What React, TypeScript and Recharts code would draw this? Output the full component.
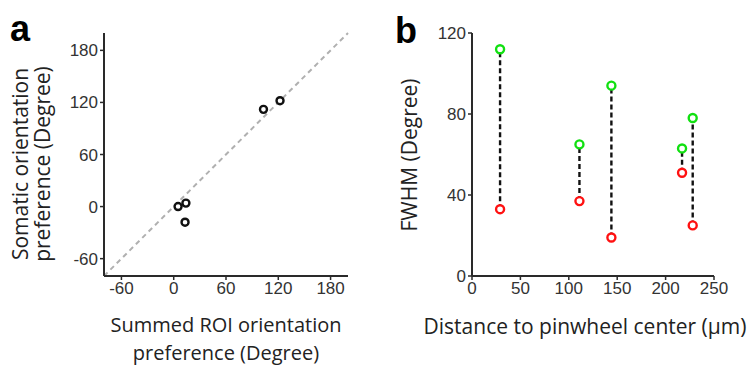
import React from "react";
import {
  ScatterChart,
  Scatter,
  XAxis,
  YAxis,
  ReferenceLine,
  Label,
} from "recharts";

// Panel a: orientation preference
const summedROI = [5, 14, 13, 103, 122];
const somatic = [0, 4, -18, 112, 122];
const angleTicks = [-60, 0, 60, 120, 180];
const angleDomain = [-80, 200];

// Panel b: FWHM vs distance to pinwheel center
const distances = [29, 111, 144, 217, 228];
const fwhmGreen = [112, 65, 94, 63, 78];
const fwhmRed = [33, 37, 19, 51, 25];
const distTicks = [0, 50, 100, 150, 200, 250];
const fwhmTicks = [0, 40, 80, 120];

const angleData = summedROI.map((x, i) => ({ x, y: somatic[i] }));
const greenData = distances.map((x, i) => ({ x, y: fwhmGreen[i] }));
const redData = distances.map((x, i) => ({ x, y: fwhmRed[i] }));

const AXIS = "#2a2a2a";
const TICK_FONT = "'Liberation Sans', Arial, sans-serif";
const LABEL_FONT = "'Open Sans', 'Noto Sans', sans-serif";
const tickStyle = { fill: "#333333", fontSize: 17, fontFamily: TICK_FONT };

const ring = (stroke: string, r: number) => (p: any) =>
  p.cx == null ? <g /> : (
    <circle cx={p.cx} cy={p.cy} r={r} fill="#ffffff" stroke={stroke} strokeWidth={2.4} />
  );

const xLabelA = (props: any) => {
  const vb = props.viewBox;
  const cx = vb.x + vb.width / 2;
  return (
    <g>
      <text x={cx} y={332} textAnchor="middle" fontSize={20} fontFamily={LABEL_FONT} fill="#222">
        Summed ROI orientation
      </text>
      <text x={cx} y={359.5} textAnchor="middle" fontSize={20} fontFamily={LABEL_FONT} fill="#222">
        preference (Degree)
      </text>
    </g>
  );
};

const yLabelA = () => (
  <text
    transform="translate(28,164) rotate(-90)"
    textAnchor="middle"
    fontSize={21}
    fontFamily={LABEL_FONT}
    fill="#222"
  >
    <tspan x={0} dy={0}>Somatic orientation</tspan>
    <tspan x={0} dy={22}>preference (Degree)</tspan>
  </text>
);

const xLabelB = () => (
  <text x={585 - 374} y={334} textAnchor="middle" fontSize={21} fontFamily={LABEL_FONT} fill="#222">
    Distance to pinwheel center (µm)
  </text>
);

const yLabelB = () => (
  <text
    transform={`translate(${417 - 374},155) rotate(-90)`}
    textAnchor="middle"
    fontSize={21}
    fontFamily={LABEL_FONT}
    fill="#222"
  >
    FWHM (Degree)
  </text>
);

export default function App() {
  return (
    <div style={{ position: "absolute", left: 0, top: 0, width: 748, height: 368, background: "#fff" }}>
      <div style={{ position: "absolute", left: 0, top: 0 }}>
        <ScatterChart width={374} height={368} margin={{ top: 33, right: 26, bottom: 62, left: 44 }}>
          <XAxis
            type="number"
            dataKey="x"
            domain={angleDomain}
            ticks={angleTicks}
            allowDataOverflow
            height={30}
            stroke={AXIS}
            strokeWidth={2}
            tickSize={4}
            tick={tickStyle}
            tickLine={{ stroke: AXIS, strokeWidth: 1.5 }}
          >
            <Label content={xLabelA} />
          </XAxis>
          <YAxis
            type="number"
            dataKey="y"
            domain={angleDomain}
            ticks={angleTicks}
            allowDataOverflow
            width={60}
            stroke={AXIS}
            strokeWidth={2}
            tickSize={4}
            tick={tickStyle}
            tickLine={{ stroke: AXIS, strokeWidth: 1.5 }}
          >
            <Label content={yLabelA} />
          </YAxis>
          <ReferenceLine
            segment={[
              { x: angleDomain[0], y: angleDomain[0] },
              { x: angleDomain[1], y: angleDomain[1] },
            ]}
            stroke="#b0b0b0"
            strokeWidth={2}
            strokeDasharray="5 4"
            ifOverflow="visible"
          />
          <Scatter data={angleData} shape={ring("#111111", 3.5)} isAnimationActive={false} />
        </ScatterChart>
      </div>
      <div style={{ position: "absolute", left: 374, top: 0 }}>
        <ScatterChart width={374} height={368} margin={{ top: 33, right: 34, bottom: 62, left: 38 }}>
          <XAxis
            type="number"
            dataKey="x"
            domain={[0, 250]}
            ticks={distTicks}
            allowDataOverflow
            height={30}
            stroke={AXIS}
            strokeWidth={2}
            tickSize={4}
            tick={tickStyle}
            tickLine={{ stroke: AXIS, strokeWidth: 1.5 }}
          >
            <Label content={xLabelB} />
          </XAxis>
          <YAxis
            type="number"
            dataKey="y"
            domain={[0, 120]}
            ticks={fwhmTicks}
            allowDataOverflow
            width={60}
            stroke={AXIS}
            strokeWidth={2}
            tickSize={4}
            tick={tickStyle}
            tickLine={{ stroke: AXIS, strokeWidth: 1.5 }}
          >
            <Label content={yLabelB} />
          </YAxis>
          {distances.map((d, i) => (
            <ReferenceLine
              key={i}
              segment={[
                { x: d, y: fwhmRed[i] },
                { x: d, y: fwhmGreen[i] },
              ]}
              stroke="#111111"
              strokeWidth={2.4}
              strokeDasharray="5 3"
              ifOverflow="visible"
            />
          ))}
          <Scatter data={greenData} shape={ring("#11e011", 4)} isAnimationActive={false} />
          <Scatter data={redData} shape={ring("#ff1111", 4)} isAnimationActive={false} />
        </ScatterChart>
      </div>
      <svg
        width={748}
        height={368}
        style={{ position: "absolute", left: 0, top: 0, pointerEvents: "none" }}
      >
        <text x={10} y={41} fontSize={36} fontWeight="bold" fontFamily={TICK_FONT} fill="#000">
          a
        </text>
        <text x={395} y={43} fontSize={36} fontWeight="bold" fontFamily={TICK_FONT} fill="#000">
          b
        </text>
      </svg>
    </div>
  );
}
